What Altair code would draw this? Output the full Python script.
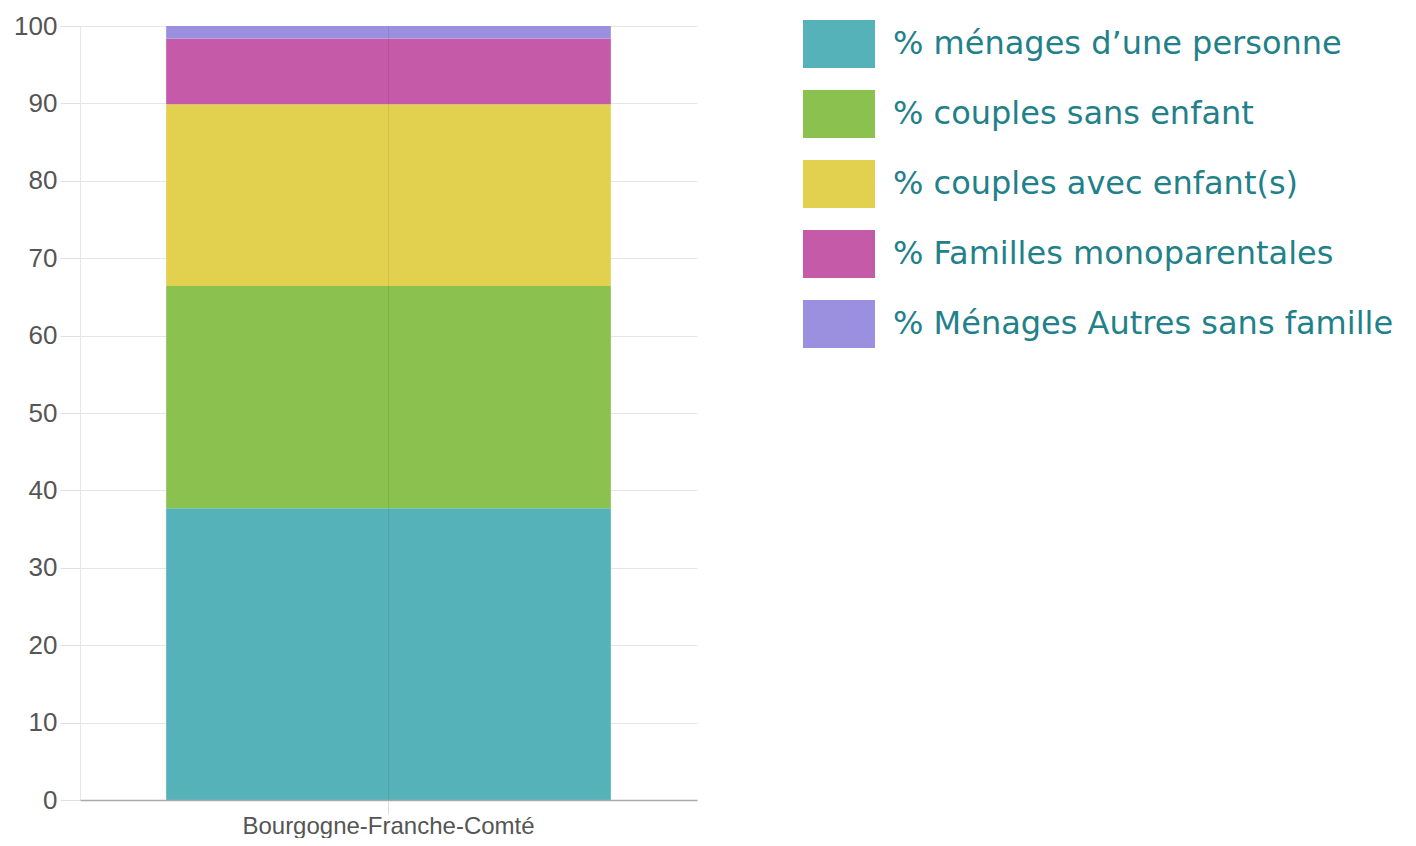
import altair as alt
import pandas as pd

regions = ["Bourgogne-Franche-Comté"]
categories = [
    "% ménages d’une personne",
    "% couples sans enfant",
    "% couples avec enfant(s)",
    "% Familles monoparentales",
    "% Ménages Autres sans famille",
]
values = [37.7, 28.7, 23.5, 8.5, 1.6]
colors = ["#56B2B9", "#8BC14F", "#E2D04F", "#C55AA9", "#9B8FE0"]
y_ticks = [0, 10, 20, 30, 40, 50, 60, 70, 80, 90, 100]

df = pd.DataFrame({
    "region": regions * len(categories),
    "cat": categories,
    "val": values,
    "idx": list(range(len(categories))),
})

chart = alt.Chart(df).mark_bar().encode(
    x=alt.X(
        "region:N",
        scale=alt.Scale(paddingInner=0.2, paddingOuter=0.155),
        axis=alt.Axis(
            title=None, labelAngle=0, grid=True, gridColor="#000000", gridOpacity=0.08,
            tickColor="#dddddd", tickSize=14, domainColor="#aaaaaa", domainWidth=1.5,
            labelFont="Liberation Sans", labelFontSize=24, labelColor="#555555",
            labelPadding=0, labelLimit=1000, zindex=1,
        ),
    ),
    y=alt.Y(
        "val:Q",
        stack="zero",
        scale=alt.Scale(domain=[0, 100], nice=False),
        axis=alt.Axis(
            title=None, values=y_ticks, grid=True, gridColor="#e6e6e6",
            tickColor="#e0e0e0", tickSize=20, domainColor="#e6e6e6",
            labelFont="Liberation Sans", labelFontSize=26, labelColor="#555555",
            labelPadding=3,
        ),
    ),
    color=alt.Color(
        "cat:N",
        scale=alt.Scale(domain=categories, range=colors),
        legend=alt.Legend(
            title=None, orient="none", legendX=735, legendY=-6,
            symbolType="M-1.5,-1H1.5V1H-1.5Z", symbolSize=2304,
            symbolStrokeWidth=0, symbolOpacity=1,
            labelFont="DejaVu Sans", labelFontSize=32, labelColor="#1f8189",
            labelLimit=1000, rowPadding=22, labelOffset=30,
        ),
    ),
    order=alt.Order("idx:Q", sort="ascending"),
).properties(
    width=617,
    height=774,
    autosize="none",
    padding={"left": 72, "top": 18, "right": 711, "bottom": 38},
).configure_view(strokeWidth=0)

chart.save("out.html", embed_options={"renderer": "svg", "actions": False})
